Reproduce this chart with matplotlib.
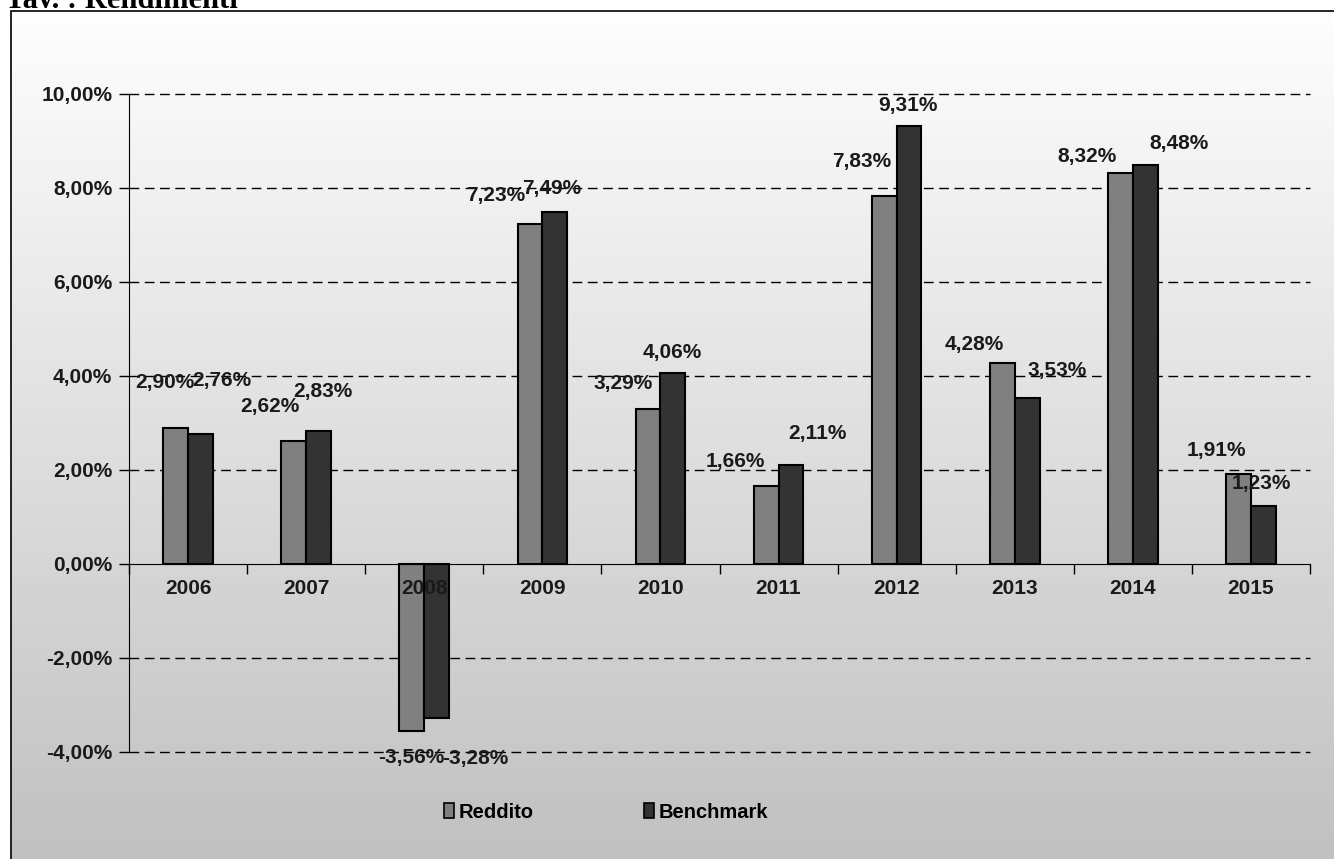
import numpy as np
import matplotlib; matplotlib.use("Agg")
import matplotlib.pyplot as plt
from matplotlib.patches import Rectangle, Patch

years = ["2006","2007","2008","2009","2010","2011","2012","2013","2014","2015"]
reddito = [2.90, 2.62, -3.56, 7.23, 3.29, 1.66, 7.83, 4.28, 8.32, 1.91]
benchmark = [2.76, 2.83, -3.28, 7.49, 4.06, 2.11, 9.31, 3.53, 8.48, 1.23]
yticks = [-4, -2, 0, 2, 4, 6, 8, 10]

# label offsets (pixels) from bar end, mimicking the Excel placement
off_r = [(-11,45),(-24,34),(-1,-26),(-34,29),(-25,26),(-31,24),(-23,34),(-28,18),(-33,16),(-22,24)]
off_b = [(21,54),(4,39),(39,-40),(-3,23),(-1,21),(26,31),(-1,21),(30,28),(34,22),(-2,23)]

W, H = 1334, 859
plt.rcParams['font.family'] = ['Liberation Sans', 'DejaVu Sans']
fig = plt.figure(figsize=(W/100, H/100), dpi=100)

# gradient background inside the frame
bx0, by1 = 11/W, 1-11/H
bg = fig.add_axes([bx0, 0, 1-bx0, by1]); bg.set_axis_off()
grad = np.linspace(253, 192, 256)[:, None] / 255.0
bg.imshow(np.repeat(grad, 2, axis=1), cmap='gray', vmin=0, vmax=1, aspect='auto', extent=[0,1,0,1])
bg.set_xlim(0,1); bg.set_ylim(0,1)
fig.patches.append(Rectangle((bx0, -0.01), 1.0, by1+0.01, transform=fig.transFigure,
                             fill=False, ec='black', lw=1.2))
fig.text(5/W, 1-8/H, "Tav. : Rendimenti", family=['Liberation Serif'], weight='bold',
         fontsize=22, va='baseline', ha='left')

ax = fig.add_axes([129/W, 107/H, (1310-129)/W, (752-94)/H])
ax.patch.set_alpha(0)
ax.set_axisbelow(False)   # year labels drawn over the 2008 bars
x = np.arange(len(years))
bw = 0.21
ax.bar(x-bw/2, reddito, bw, color='#808080', edgecolor='black', lw=1.5, zorder=2, label='Reddito')
ax.bar(x+bw/2, benchmark, bw, color='#333333', edgecolor='black', lw=1.5, zorder=2, label='Benchmark')

ax.set_xlim(-0.5, len(years)-0.5)
ax.set_ylim(-4, 10)
for t in yticks:
    if t != 0:
        ax.axhline(t, color='black', lw=1, ls=(0, (7, 4)), zorder=1, clip_on=False)

fmt = lambda v: f"{v:.2f}%".replace('.', ',')
tc = '#1a1a1a'
ax.set_yticks(yticks)
ax.set_yticklabels([fmt(t) for t in yticks], fontsize=15, weight='bold', color=tc)
ax.tick_params(axis='y', length=7, width=1, pad=5)

ax.spines['top'].set_visible(False)
ax.spines['right'].set_visible(False)
ax.spines['bottom'].set_position(('data', 0))
ax.set_xticks(np.arange(-0.5, len(years)))
ax.set_xticklabels([])
ax.tick_params(axis='x', which='major', length=7, width=1, direction='out')
ax.set_xticks(x, minor=True)
ax.set_xticklabels(years, minor=True, fontsize=15, weight='bold', color=tc)
ax.tick_params(axis='x', which='minor', length=0, pad=11)

for i in range(len(years)):
    for val, xc, (dx, dy) in ((reddito[i], x[i]-bw/2, off_r[i]), (benchmark[i], x[i]+bw/2, off_b[i])):
        ax.annotate(fmt(val), (xc, val), xytext=(dx, dy), textcoords='offset pixels',
                    ha='center', va='center', fontsize=15, weight='bold', color=tc,
                    zorder=7, annotation_clip=False)

handles = [Patch(facecolor='#808080', edgecolor='black', lw=1.2, label='Reddito'),
           Patch(facecolor='#333333', edgecolor='black', lw=1.2, label='Benchmark')]
fig.legend(handles=handles, loc='center', bbox_to_anchor=(606/W, 1-812/H), ncol=2,
           frameon=False, handlelength=0.5, handleheight=0.8, handletextpad=0.2,
           columnspacing=5.5, prop={'weight': 'bold', 'size': 14.5})

fig.savefig("out.png", dpi=100)
